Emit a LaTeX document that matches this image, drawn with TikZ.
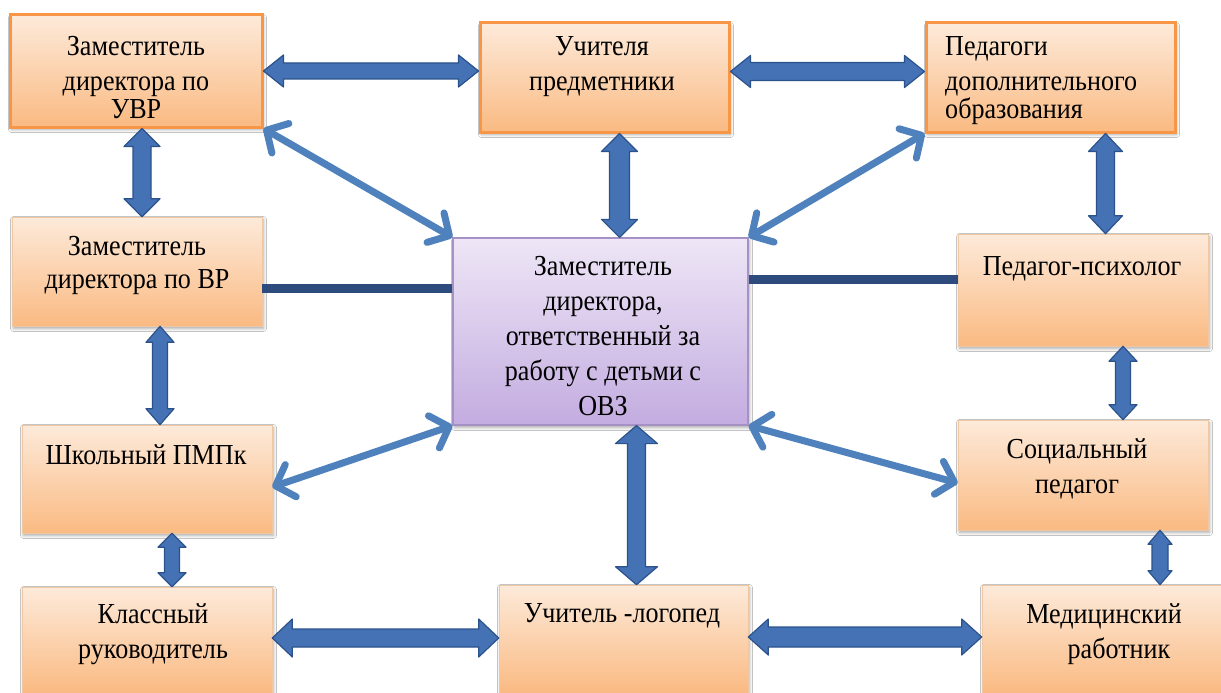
\documentclass[tikz,border=0pt]{standalone}
\usepackage{fontspec}
\setmainfont{Liberation Serif}[FakeStretch=0.9]
\usetikzlibrary{calc,arrows.meta,shadows.blur}
\definecolor{peachtop}{RGB}{253,234,218}
\definecolor{peachbot}{RGB}{250,186,130}
\definecolor{orangeedge}{RGB}{247,150,70}
\definecolor{boxedge}{RGB}{238,200,165}
\definecolor{lavtop}{RGB}{238,230,246}
\definecolor{lavbot}{RGB}{195,172,224}
\definecolor{lavedge}{RGB}{165,145,195}
\definecolor{arrowfill}{RGB}{68,114,180}
\definecolor{arrowedge}{RGB}{44,82,140}
\definecolor{diagblue}{RGB}{79,129,189}
\definecolor{navyline}{RGB}{45,75,125}
% #1 start, #2 end, #3 head length, #4 half shaft, #5 half head
\newcommand{\blockarrow}[5]{%
  \coordinate (baA) at ($(#1)!#3!(#2)$);
  \coordinate (baB) at ($(#2)!#3!(#1)$);
  \path[blockarr] (#1)
    -- ($(baA)!#5!90:(#2)$)
    -- ($(baA)!#4!90:(#2)$)
    -- ($(baB)!#4!-90:(#1)$)
    -- ($(baB)!#5!-90:(#1)$)
    -- (#2)
    -- ($(baB)!#5!90:(#1)$)
    -- ($(baB)!#4!90:(#1)$)
    -- ($(baA)!#4!-90:(#2)$)
    -- ($(baA)!#5!-90:(#2)$)
    -- cycle;}
\begin{document}
\begin{tikzpicture}[x=1pt,y=-1pt,
  box/.style={rectangle, inner sep=0pt, top color=peachtop, bottom color=peachbot,
    draw=boxedge, line width=0.6pt,
    blur shadow={shadow xshift=1.5pt, shadow yshift=-2.5pt, shadow blur radius=3pt, shadow opacity=35}},
  obox/.style={box, draw=orangeedge, line width=3pt},
  cbox/.style={box, top color=lavtop, bottom color=lavbot, draw=lavedge, line width=1.2pt},
  txt/.style={inner sep=0pt, align=center, anchor=north, font=\fontsize{29}{35}\selectfont},
  blockarr/.style={fill=arrowfill, draw=arrowedge, line width=1.2pt, line join=round},
  plainline/.style={draw=navyline, line width=9pt},
  diag/.style={draw=diagblue, line width=7pt, <->, >={Straight Barb[length=16pt,width=34pt,round]}}
]
\clip (0,0) rectangle (1221,693);
\fill[white] (0,0) rectangle (1221,693);

% boxes
\node[obox, minimum width=252pt, minimum height=112pt] (b1) at (136,71) {};
\node[obox, minimum width=249pt, minimum height=109pt] (b2) at (604.5,77.5) {};
\node[obox, minimum width=249pt, minimum height=109pt] (b3) at (1050.5,77.5) {};
\node[box, minimum width=250pt, minimum height=109pt] (b4) at (137,271.5) {};
\node[cbox, minimum width=295pt, minimum height=187pt] (b5) at (600.5,331.5) {};
\node[box, minimum width=250pt, minimum height=112pt] (b6) at (1083,290) {};
\node[box, minimum width=250pt, minimum height=108pt] (b7) at (147,479) {};
\node[box, minimum width=250pt, minimum height=110pt] (b8) at (1083,475) {};
\node[box, minimum width=250pt, minimum height=106pt] (b9) at (147,640) {};
\node[box, minimum width=249pt, minimum height=108pt] (b10) at (623.5,639) {};
\node[box, minimum width=239pt, minimum height=108pt] (b11) at (1101.5,639) {};

% connector end points
\coordinate (A1) at (b1.east);
\coordinate (A2) at (b1.east -| b2.west);
\coordinate (B1) at ([yshift=6pt]b2.east);
\coordinate (B2) at (B1 -| b3.west);
\coordinate (C1) at ([xshift=6pt]b1.south);
\coordinate (C2) at (C1 |- b4.north);
\coordinate (D1) at ([xshift=15pt]b2.south);
\coordinate (D2) at (D1 |- b5.north);
\coordinate (E1) at ([xshift=55pt]b3.south);
\coordinate (E2) at (E1 |- b6.north);
\coordinate (H1) at ([xshift=23pt]b4.south);
\coordinate (H2) at (H1 |- b7.north);
\coordinate (I1) at ([xshift=25pt]b7.south);
\coordinate (I2) at (I1 |- b9.north);
\coordinate (J1) at ([yshift=2pt]b9.east);
\coordinate (J2) at (J1 -| b10.west);
\coordinate (K1) at ([yshift=2pt]b10.east);
\coordinate (K2) at (K1 -| b11.west);
\coordinate (L1) at ([xshift=36pt]b5.south);
\coordinate (L2) at (L1 |- b10.north);
\coordinate (M1) at ([xshift=40pt]b6.south);
\coordinate (M2) at (M1 |- b8.north);
\coordinate (N1) at ([xshift=77pt]b8.south);
\coordinate (N2) at (N1 |- b11.north);
\coordinate (F1) at ([yshift=-17pt]b4.east);
\coordinate (F2) at (F1 -| b5.west);
\coordinate (G1) at ([yshift=11pt]b6.west);
\coordinate (G2) at (G1 -| b5.east);
\coordinate (Q1) at ([yshift=-8pt]b7.east);
\coordinate (R1) at ([yshift=-8pt]b8.west);

% block arrows
\blockarrow{A1}{A2}{20pt}{8pt}{16pt}
\blockarrow{B1}{B2}{20pt}{9pt}{16pt}
\blockarrow{C1}{C2}{18pt}{9pt}{18pt}
\blockarrow{D1}{D2}{18pt}{10pt}{18pt}
\blockarrow{E1}{E2}{18pt}{9pt}{17pt}
\blockarrow{H1}{H2}{16pt}{7.5pt}{14pt}
\blockarrow{I1}{I2}{14pt}{7.5pt}{14pt}
\blockarrow{J1}{J2}{20pt}{9pt}{19pt}
\blockarrow{K1}{K2}{20pt}{10pt}{18pt}
\blockarrow{L1}{L2}{18pt}{9pt}{21pt}
\blockarrow{M1}{M2}{15pt}{7.5pt}{14pt}
\blockarrow{N1}{N2}{14pt}{8pt}{12pt}

% plain lines
\draw[plainline] (F1) -- (F2);
\draw[plainline] (G2) -- (G1);

% diagonal arrows
\draw[diag] (b1.south east) -- (b5.north west);
\draw[diag] (b5.north east) -- (b3.south west);
\draw[diag] (b5.south west) -- (Q1);
\draw[diag] (b5.south east) -- (R1);

% texts
\node[txt] (t1) at (136,36) {Заместитель\\директора по\\[-7pt]УВР};
\node[txt] (t2) at (602,36) {Учителя\\предметники};
\node[txt, anchor=north west, align=left] (t3) at (945,36) {Педагоги\\дополнительного\\[-7pt]образования};
\node[txt] (t4) at (137,236) {Заместитель\\[-2pt]директора по ВР};
\node[txt] (t5) at (603,256) {Заместитель\\директора,\\ответственный за\\работу с детьми с\\ОВЗ};
\node[txt] (t6) at (1082,256) {Педагог-психолог};
\node[txt] (t7) at (146,444) {Школьный ПМПк};
\node[txt] (t8) at (1077,438) {Социальный\\педагог};
\node[txt] (t9) at (153,603) {Классный\\руководитель};
\node[txt] (t10) at (622,603) {Учитель -логопед};
\node[txt] (t11) at (1104,603) {Медицинский\\\hspace*{30pt}работник};
\end{tikzpicture}
\end{document}
